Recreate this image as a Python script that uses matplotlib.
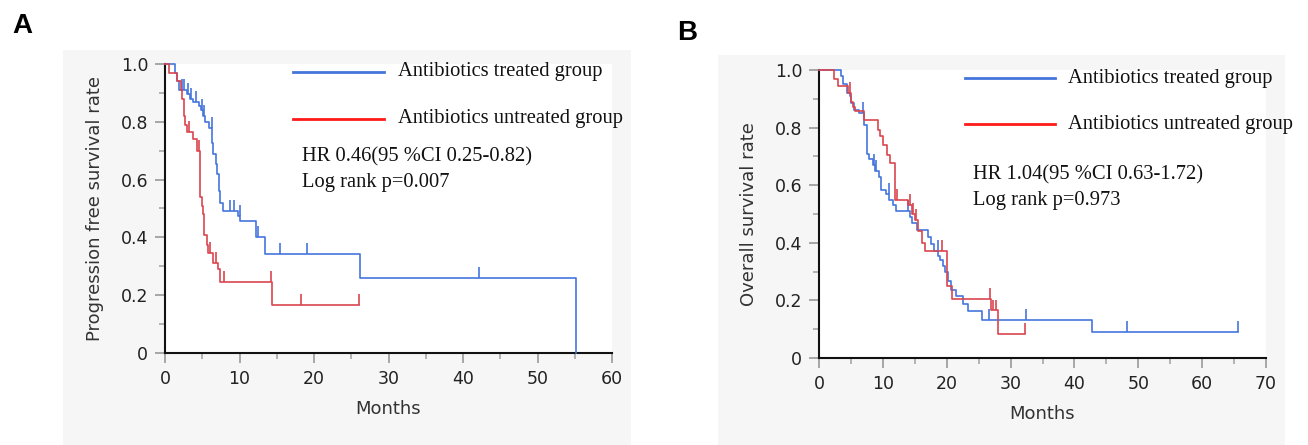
import numpy as np
import matplotlib.pyplot as plt
from matplotlib.patches import Rectangle
from matplotlib.ticker import MultipleLocator, FixedLocator

# ---- panel A: progression free survival ----
pfs_trt_t = [1.3, 1.6, 1.9, 2.9, 3.3, 3.8, 4.5, 4.8, 5.1, 5.4, 5.9, 6.3, 6.5, 6.8, 7.0,
             7.2, 7.4, 7.8, 9.8, 10.1, 12.2, 13.4, 26.2, 55.2]
pfs_trt_s = [0.97, 0.94, 0.91, 0.895, 0.88, 0.87, 0.855, 0.84, 0.82, 0.80, 0.78, 0.725, 0.69,
             0.655, 0.62, 0.56, 0.52, 0.49, 0.475, 0.456, 0.40, 0.343, 0.26, 0.0]
pfs_trt_end = 55.2
pfs_trt_cens_t = [2.3, 2.5, 3.1, 3.5, 4.2, 5.0, 5.3, 6.3, 8.7, 9.2, 10.0, 12.5, 15.4, 19.0, 42.2]
pfs_trt_cens_s = [0.91, 0.91, 0.895, 0.88, 0.87, 0.84, 0.82, 0.78, 0.49, 0.49, 0.475, 0.40,
                  0.343, 0.343, 0.26]

pfs_unt_t = [0.5, 1.6, 2.2, 2.3, 2.5, 2.7, 3.0, 3.8, 4.3, 4.7, 4.9, 5.1, 5.3, 5.6, 5.8,
             6.5, 7.1, 7.4, 14.4]
pfs_unt_s = [0.97, 0.94, 0.91, 0.88, 0.82, 0.79, 0.765, 0.74, 0.70, 0.54, 0.51, 0.48, 0.41,
             0.375, 0.345, 0.31, 0.29, 0.247, 0.165]
pfs_unt_end = 26.1
pfs_unt_cens_t = [3.2, 4.6, 6.0, 6.9, 7.9, 14.2, 18.3, 26.1]
pfs_unt_cens_s = [0.765, 0.70, 0.345, 0.31, 0.247, 0.247, 0.165, 0.165]

# ---- panel B: overall survival ----
os_trt_t = [3.4, 3.7, 4.4, 4.8, 5.0, 5.5, 6.2, 7.1, 7.5, 7.8, 8.4, 8.8, 9.4, 9.7, 10.5,
            11.0, 11.6, 12.0, 14.2, 14.5, 15.3, 17.1, 17.6, 18.0, 18.6, 19.0, 19.4, 19.7,
            20.2, 20.7, 21.5, 22.5, 23.4, 25.6, 42.8]
os_trt_s = [0.98, 0.95, 0.92, 0.91, 0.885, 0.86, 0.85, 0.81, 0.71, 0.69, 0.67, 0.65, 0.63,
            0.585, 0.57, 0.55, 0.53, 0.51, 0.49, 0.47, 0.445, 0.42, 0.395, 0.37, 0.355, 0.34,
            0.32, 0.30, 0.266, 0.237, 0.216, 0.189, 0.162, 0.133, 0.089]
os_trt_end = 65.6
os_trt_cens_t = [6.9, 8.6, 9.0, 11.0, 14.0, 18.7, 26.6, 32.4, 48.3, 65.6]
os_trt_cens_s = [0.85, 0.67, 0.65, 0.57, 0.51, 0.37, 0.133, 0.133, 0.089, 0.089]

os_unt_t = [2.3, 3.0, 4.6, 5.0, 5.3, 5.6, 7.0, 9.2, 9.6, 10.1, 10.6, 11.1, 11.9, 13.9,
            14.5, 15.0, 15.5, 16.1, 16.6, 20.0, 20.9, 27.0, 28.1]
os_unt_s = [0.97, 0.945, 0.92, 0.89, 0.87, 0.856, 0.827, 0.79, 0.77, 0.74, 0.706, 0.677,
            0.55, 0.53, 0.50, 0.48, 0.44, 0.40, 0.37, 0.25, 0.205, 0.165, 0.083]
os_unt_end = 32.3
os_unt_cens_t = [4.8, 12.2, 14.3, 14.7, 15.2, 19.2, 26.8, 27.3, 27.7, 32.3]
os_unt_cens_s = [0.92, 0.55, 0.53, 0.50, 0.48, 0.37, 0.205, 0.165, 0.165, 0.083]

legend_labels = ['Antibiotics treated group', 'Antibiotics untreated group']
ytick_vals = [0, 0.2, 0.4, 0.6, 0.8, 1.0]
ytick_labels = ['0', '0.2', '0.4', '0.6', '0.8', '1.0']

blue = '#4475dd'
red = '#d9464f'
W, H = 1308, 445

fig = plt.figure(figsize=(W / 100, H / 100), dpi=100)
fig.patch.set_facecolor('white')
fig.add_artist(Rectangle((63 / W, 0), (631 - 63) / W, (H - 50) / H, transform=fig.transFigure,
                         facecolor='#f6f6f6', edgecolor='none', zorder=0))
fig.add_artist(Rectangle((718 / W, 0), (1285 - 718) / W, (H - 55) / H, transform=fig.transFigure,
                         facecolor='#f6f6f6', edgecolor='none', zorder=0))


def km(ax, t, s, end, ct, cs, color):
    xs = np.r_[0, t, end]
    ys = np.r_[1.0, s, s[-1]]
    ax.step(xs, ys, where='post', color=color, lw=1.2, clip_on=False, zorder=3)
    ax.vlines(ct, cs, np.array(cs) + 0.038, color=color, lw=1.2, clip_on=False, zorder=3)


def style(ax, xmax, ylabel):
    ax.set_xlim(0, xmax)
    ax.set_ylim(0, 1)
    for sp in ['top', 'right']:
        ax.spines[sp].set_visible(False)
    for sp in ['left', 'bottom']:
        ax.spines[sp].set_color('#111111')
        ax.spines[sp].set_linewidth(1.5)
    ax.xaxis.set_major_locator(MultipleLocator(10))
    ax.xaxis.set_minor_locator(MultipleLocator(5))
    ax.yaxis.set_major_locator(FixedLocator(ytick_vals))
    ax.yaxis.set_minor_locator(MultipleLocator(0.1))
    ax.set_yticklabels(ytick_labels)
    ax.tick_params(which='major', length=7, width=1.3, color='#a0a0a0', labelsize=12.5,
                   labelcolor='#222222', pad=5)
    ax.tick_params(which='minor', length=4, width=1.1, color='#a0a0a0')
    ax.set_xlabel('Months', fontsize=13, color='#333333', labelpad=9)
    ax.set_ylabel(ylabel, fontsize=13, color='#333333', labelpad=12)


def legend(ax, x0, x1, xt, y1, y2, hr_x, hr_y, lr_y, hr, p):
    tr = ax.transAxes
    ax.plot([x0, x1], [y1, y1], transform=tr, color=blue, lw=2, clip_on=False)
    ax.plot([x0, x1], [y2, y2], transform=tr, color='#ff1a1a', lw=2, clip_on=False)
    kw = dict(transform=tr, family='Liberation Serif', fontsize=14.8, va='center', color='#111111')
    ax.text(xt, y1, legend_labels[0], **kw)
    ax.text(xt, y2, legend_labels[1], **kw)
    ax.text(hr_x, hr_y, hr, **kw)
    ax.text(hr_x, lr_y, p, **kw)


# panel A
axA = fig.add_axes([165 / W, (H - 353) / H, 447 / W, 289 / H])
km(axA, pfs_trt_t, pfs_trt_s, pfs_trt_end, pfs_trt_cens_t, pfs_trt_cens_s, blue)
km(axA, pfs_unt_t, pfs_unt_s, pfs_unt_end, pfs_unt_cens_t, pfs_unt_cens_s, red)
style(axA, 60, 'Progression free survival rate')
fa = lambda px: (px - 165) / 447
fy = lambda py: (353 - py) / 289
legend(axA, fa(293), fa(384), fa(398), fy(72), fy(119), fa(302), fy(157), fy(183),
       'HR 0.46(95 %CI 0.25-0.82)', 'Log rank p=0.007')

# panel B
axB = fig.add_axes([819 / W, (H - 358) / H, 447 / W, 288 / H])
km(axB, os_trt_t, os_trt_s, os_trt_end, os_trt_cens_t, os_trt_cens_s, blue)
km(axB, os_unt_t, os_unt_s, os_unt_end, os_unt_cens_t, os_unt_cens_s, red)
style(axB, 70, 'Overall survival rate')
fb = lambda px: (px - 819) / 447
gy = lambda py: (358 - py) / 288
legend(axB, fb(965), fb(1055), fb(1068), gy(78), gy(124), fb(973), gy(175), gy(200),
       'HR 1.04(95 %CI 0.63-1.72)', 'Log rank p=0.973')

fig.text(12 / W, 1 - 26 / H, 'A', fontsize=20, fontweight='bold', family='Liberation Sans',
         va='center', ha='left')
fig.text(677 / W, 1 - 33 / H, 'B', fontsize=20, fontweight='bold', family='Liberation Sans',
         va='center', ha='left')

fig.savefig('out.png', dpi=100)
